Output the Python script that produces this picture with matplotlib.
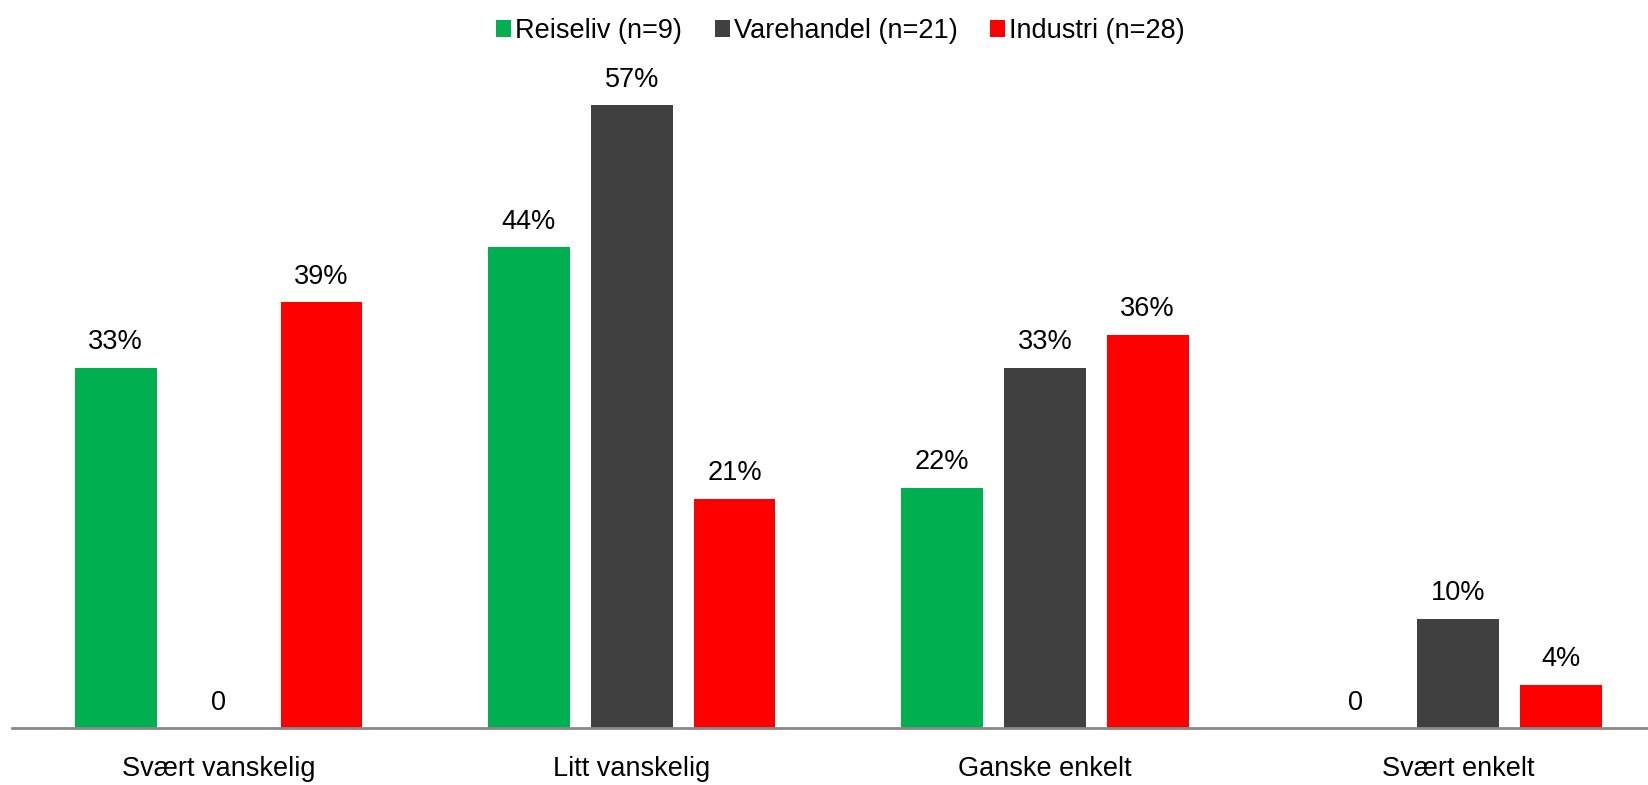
import matplotlib
matplotlib.use('Agg')
import matplotlib.pyplot as plt
import numpy as np

categories = ['Svært vanskelig', 'Litt vanskelig', 'Ganske enkelt', 'Svært enkelt']
series_names = ['Reiseliv (n=9)', 'Varehandel (n=21)', 'Industri (n=28)']
reiseliv = [33, 44, 22, 0]
varehandel = [0, 57, 33, 10]
industri = [39, 21, 36, 4]
colors = ['#00B050', '#404040', '#FF0000']

plt.rcParams['font.family'] = ['Liberation Sans', 'DejaVu Sans']

fig = plt.figure(figsize=(16.48, 7.85), dpi=100)
ax = fig.add_axes([0.0073, 0.0723, 0.9927, 0.863])

x = np.arange(len(categories))
width = 0.198
step = 0.249
for i, (name, vals, col) in enumerate(zip(series_names, [reiseliv, varehandel, industri], colors)):
    pos = x + (i - 1) * step
    ax.bar(pos, vals, width, color=col, label=name)
    for p, v in zip(pos, vals):
        txt = f'{v}%' if v > 0 else '0'
        ax.annotate(txt, (p, v), xytext=(0, 9), textcoords='offset points',
                    ha='center', va='bottom', fontsize=19.5)

ax.set_xlim(-0.5, 3.46)
ax.set_ylim(0, 62)
ax.set_xticks(x)
ax.set_xticklabels(categories, fontsize=19.5)
ax.tick_params(axis='x', length=0, pad=20)
ax.set_yticks([])
for s in ['top', 'right', 'left']:
    ax.spines[s].set_visible(False)
ax.spines['bottom'].set_color('#888888')
ax.spines['bottom'].set_linewidth(2)

fig.legend(loc='upper center', bbox_to_anchor=(0.51, 1.008), ncol=3, frameon=False,
           fontsize=19.5, handlelength=0.55, handleheight=0.55, handletextpad=0.15,
           columnspacing=1.2)

fig.savefig('out.png', dpi=100)
